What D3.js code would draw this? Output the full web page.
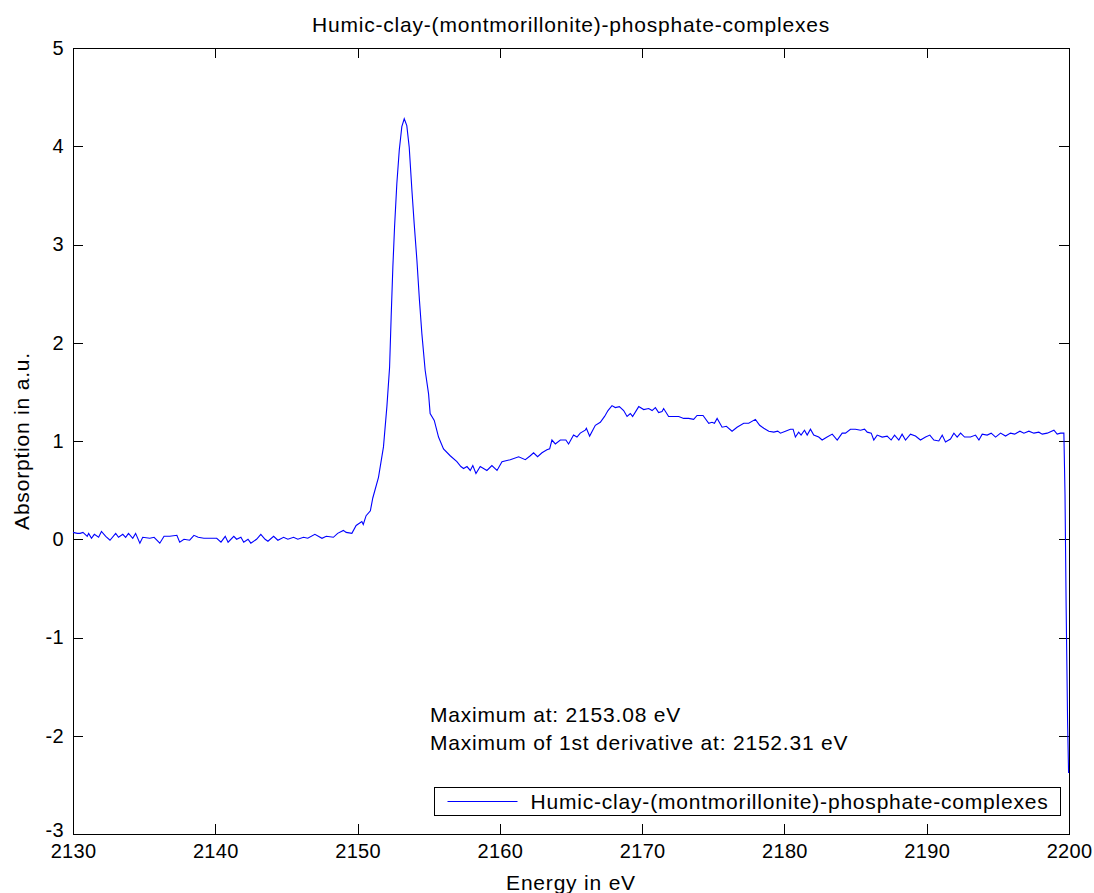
<!DOCTYPE html>
<html>
<head>
<meta charset="utf-8">
<script src="https://cdn.jsdelivr.net/npm/d3@7"></script>
<style>
  body { margin: 0; background: #fff; }
  svg { display: block; font-family: "Liberation Sans", Arial, sans-serif; }
  .axis path, .axis line { stroke: #000; shape-rendering: crispEdges; }
  .axis text { fill: #000; font-size: 20px; letter-spacing: 0.3px; }
</style>
</head>
<body>
<svg id="chart" width="1094" height="893"></svg>
<script>
// values
var energy = [
  2130.0, 2130.3, 2130.5, 2130.7, 2131.0, 2131.1, 2131.3, 2131.5, 2131.8, 2132.0,
  2132.3, 2132.6, 2133.0, 2133.2, 2133.5, 2133.7, 2133.9, 2134.2, 2134.4, 2134.7,
  2134.9, 2135.4, 2135.7, 2136.1, 2136.4, 2136.8, 2137.3, 2137.5, 2137.8, 2138.2,
  2138.5, 2138.8, 2139.2, 2139.6, 2140.1, 2140.4, 2140.7, 2140.9, 2141.3, 2141.5,
  2141.8, 2142.0, 2142.3, 2142.5, 2142.9, 2143.2, 2143.5, 2143.7, 2144.1, 2144.4,
  2144.8, 2145.1, 2145.5, 2145.8, 2146.2, 2146.5, 2147.0, 2147.5, 2147.8, 2148.3,
  2148.6, 2149.0, 2149.2, 2149.6, 2149.9, 2150.3, 2150.4, 2150.6, 2150.9, 2151.07,
  2151.47, 2151.82, 2152.06, 2152.25, 2152.36, 2152.48, 2152.6, 2152.76, 2152.93, 2153.11,
  2153.28, 2153.46, 2153.63, 2153.82, 2153.98, 2154.17, 2154.35, 2154.52, 2154.75, 2154.99,
  2155.1, 2155.39, 2155.69, 2156.04, 2156.51, 2156.98, 2157.26, 2157.45, 2157.69, 2157.92,
  2158.1, 2158.32, 2158.62, 2159.09, 2159.44, 2159.8, 2160.15, 2160.73, 2161.32, 2161.79,
  2162.14, 2162.37, 2162.65, 2162.96, 2163.31, 2163.5, 2163.66, 2163.9, 2164.25, 2164.64,
  2164.83, 2165.18, 2165.42, 2165.65, 2166.0, 2166.08, 2166.31, 2166.71, 2167.06, 2167.36,
  2167.6, 2167.88, 2168.11, 2168.4, 2168.7, 2168.94, 2169.17, 2169.33, 2169.76, 2170.11,
  2170.46, 2170.7, 2170.93, 2171.16, 2171.4, 2171.51, 2171.86, 2172.21, 2172.57, 2172.92,
  2173.27, 2173.62, 2173.86, 2174.28, 2174.68, 2174.91, 2175.08, 2175.27, 2175.62, 2175.92,
  2176.32, 2176.67, 2177.14, 2177.49, 2177.96, 2178.26, 2178.55, 2178.9, 2179.25, 2179.53,
  2179.72, 2180.07, 2180.42, 2180.61, 2180.77, 2181.0, 2181.17, 2181.41, 2181.6, 2181.83,
  2182.06, 2182.41, 2182.65, 2183.0, 2183.36, 2183.71, 2184.06, 2184.29, 2184.64, 2184.99,
  2185.35, 2185.63, 2185.82, 2186.1, 2186.28, 2186.52, 2186.87, 2187.22, 2187.5, 2187.74,
  2188.04, 2188.27, 2188.51, 2188.86, 2189.21, 2189.56, 2189.92, 2190.22, 2190.5, 2190.85,
  2191.09, 2191.32, 2191.67, 2191.91, 2192.14, 2192.38, 2192.66, 2193.08, 2193.43, 2193.67,
  2193.9, 2194.25, 2194.53, 2194.84, 2195.19, 2195.54, 2195.89, 2196.18, 2196.55, 2196.83,
  2197.18, 2197.53, 2197.88, 2198.12, 2198.47, 2198.94, 2199.17, 2199.41, 2199.64, 2199.72,
  2199.8, 2199.9, 2199.97
];
var absorption = [
  0.07, 0.06, 0.06, 0.07, 0.03, 0.06, 0.01, 0.05, 0.02, 0.08,
  0.03, -0.01, 0.06, 0.02, 0.05, 0.02, 0.06, 0.01, 0.06, -0.04,
  0.02, 0.01, 0.02, -0.04, 0.03, 0.03, 0.04, -0.03, 0.0, -0.01,
  0.04, 0.02, 0.01, 0.01, 0.01, -0.03, 0.03, -0.03, 0.03, 0.0,
  0.02, -0.03, 0.0, -0.04, 0.0, 0.05, 0.0, -0.02, 0.03, -0.01,
  0.02, 0.0, 0.02, 0.0, 0.02, 0.01, 0.05, 0.01, 0.03, 0.02,
  0.06, 0.09, 0.07, 0.06, 0.14, 0.18, 0.15, 0.24, 0.29, 0.42,
  0.63, 0.94, 1.35, 1.75, 2.26, 2.77, 3.18, 3.62, 3.96, 4.2,
  4.28, 4.21, 3.99, 3.55, 3.21, 2.84, 2.43, 2.09, 1.72, 1.48,
  1.28, 1.21, 1.04, 0.92, 0.85, 0.79, 0.74, 0.72, 0.74, 0.70,
  0.75, 0.67, 0.74, 0.70, 0.75, 0.70, 0.79, 0.81, 0.84, 0.81,
  0.85, 0.88, 0.84, 0.88, 0.91, 0.92, 1.01, 0.97, 1.01, 1.01,
  0.97, 1.06, 1.04, 1.08, 1.11, 1.13, 1.05, 1.16, 1.19, 1.25,
  1.31, 1.36, 1.34, 1.35, 1.31, 1.25, 1.28, 1.25, 1.35, 1.32,
  1.33, 1.31, 1.34, 1.29, 1.30, 1.33, 1.25, 1.25, 1.25, 1.23,
  1.23, 1.22, 1.26, 1.26, 1.18, 1.19, 1.18, 1.23, 1.14, 1.15,
  1.10, 1.14, 1.18, 1.18, 1.22, 1.16, 1.13, 1.10, 1.09, 1.10,
  1.08, 1.10, 1.12, 1.12, 1.04, 1.09, 1.06, 1.11, 1.06, 1.12,
  1.06, 1.04, 1.01, 1.04, 1.07, 1.01, 1.08, 1.08, 1.12, 1.12,
  1.11, 1.12, 1.09, 1.08, 1.01, 1.06, 1.04, 1.05, 1.01, 1.06,
  1.01, 1.07, 1.01, 1.07, 1.05, 1.01, 1.04, 1.06, 1.01, 1.00,
  1.06, 0.99, 1.02, 1.08, 1.04, 1.08, 1.04, 1.04, 1.06, 1.01,
  1.07, 1.06, 1.08, 1.04, 1.08, 1.05, 1.08, 1.07, 1.10, 1.08,
  1.10, 1.08, 1.09, 1.07, 1.08, 1.11, 1.07, 1.08, 1.08, 0.45,
  -0.7, -1.85, -2.38
];
var xTicks = [2130, 2140, 2150, 2160, 2170, 2180, 2190, 2200];
var yTicks = [-3, -2, -1, 0, 1, 2, 3, 4, 5];

var titleText = "Humic-clay-(montmorillonite)-phosphate-complexes";
var seriesName = "Humic-clay-(montmorillonite)-phosphate-complexes";
var notes = ["Maximum at: 2153.08 eV", "Maximum of 1st derivative at: 2152.31 eV"];

var margin = { left: 73, top: 48, right: 25, bottom: 59 };
var W = 1094, H = 893;
var w = W - margin.left - margin.right;
var h = H - margin.top - margin.bottom;

// plain hyphen for negatives, like the original
var fmt = function (d) { return String(d); };

var svg = d3.select("#chart");
var g = svg.append("g").attr("transform", "translate(" + margin.left + "," + margin.top + ")");

var x = d3.scaleLinear().domain([2130, 2200]).range([0, w]);
var y = d3.scaleLinear().domain([-3, 5]).range([h, 0]);

// axes, ticks pointing in like matlab
g.append("g").attr("class", "axis")
  .attr("transform", "translate(0," + h + ")")
  .call(d3.axisBottom(x).tickValues(xTicks).tickSize(-10).tickPadding(10).tickFormat(fmt));
g.append("g").attr("class", "axis")
  .call(d3.axisTop(x).tickValues(xTicks).tickSize(-10).tickFormat(""));
var yAx = g.append("g").attr("class", "axis")
  .call(d3.axisLeft(y).tickValues(yTicks).tickSize(-10).tickPadding(9).tickFormat(fmt));
// bottom label sits a bit higher so it clears 2130
yAx.selectAll(".tick").filter(function (d) { return d === -3; })
  .select("text").attr("dy", "0.1em");
g.append("g").attr("class", "axis")
  .attr("transform", "translate(" + w + ",0)")
  .call(d3.axisRight(y).tickValues(yTicks).tickSize(-10).tickFormat(""));
g.selectAll(".axis .domain").attr("stroke-width", 1.2);

// the curve
var line = d3.line()
  .x(function (d, i) { return x(energy[i]); })
  .y(function (d) { return y(d); });

g.append("path")
  .datum(absorption)
  .attr("fill", "none")
  .attr("stroke", "#0000ff")
  .attr("stroke-width", 1.1)
  .attr("d", line);

// title + labels
svg.append("text")
  .attr("x", margin.left + w / 2).attr("y", 32)
  .attr("text-anchor", "middle")
  .style("font-size", "21px").style("letter-spacing", "0.8px")
  .text(titleText);

svg.append("text")
  .attr("x", margin.left + w / 2).attr("y", 890)
  .attr("text-anchor", "middle")
  .style("font-size", "21px").style("letter-spacing", "0.8px")
  .text("Energy in eV");

svg.append("text")
  .attr("transform", "translate(29," + (margin.top + h / 2) + ") rotate(-90)")
  .attr("text-anchor", "middle")
  .style("font-size", "21px").style("letter-spacing", "0.8px")
  .text("Absorption in a.u.");

// annotation text
g.selectAll(".note")
  .data(notes).enter().append("text")
  .attr("class", "note")
  .attr("x", 430 - margin.left)
  .attr("y", function (d, i) { return 722 - margin.top + i * 28; })
  .style("font-size", "21px").style("letter-spacing", "0.8px")
  .text(function (d) { return d; });

// legend
var lg = svg.append("g").attr("transform", "translate(434.5,787.5)");
lg.append("rect")
  .attr("width", 626).attr("height", 28)
  .attr("fill", "#fff").attr("stroke", "#000").attr("stroke-width", 1);
lg.append("line")
  .attr("x1", 13).attr("x2", 83).attr("y1", 14).attr("y2", 14)
  .attr("stroke", "#0000ff").attr("stroke-width", 1.1);
lg.append("text")
  .attr("x", 96).attr("y", 21)
  .style("font-size", "21px").style("letter-spacing", "0.8px")
  .text(seriesName);
</script>
</body>
</html>
